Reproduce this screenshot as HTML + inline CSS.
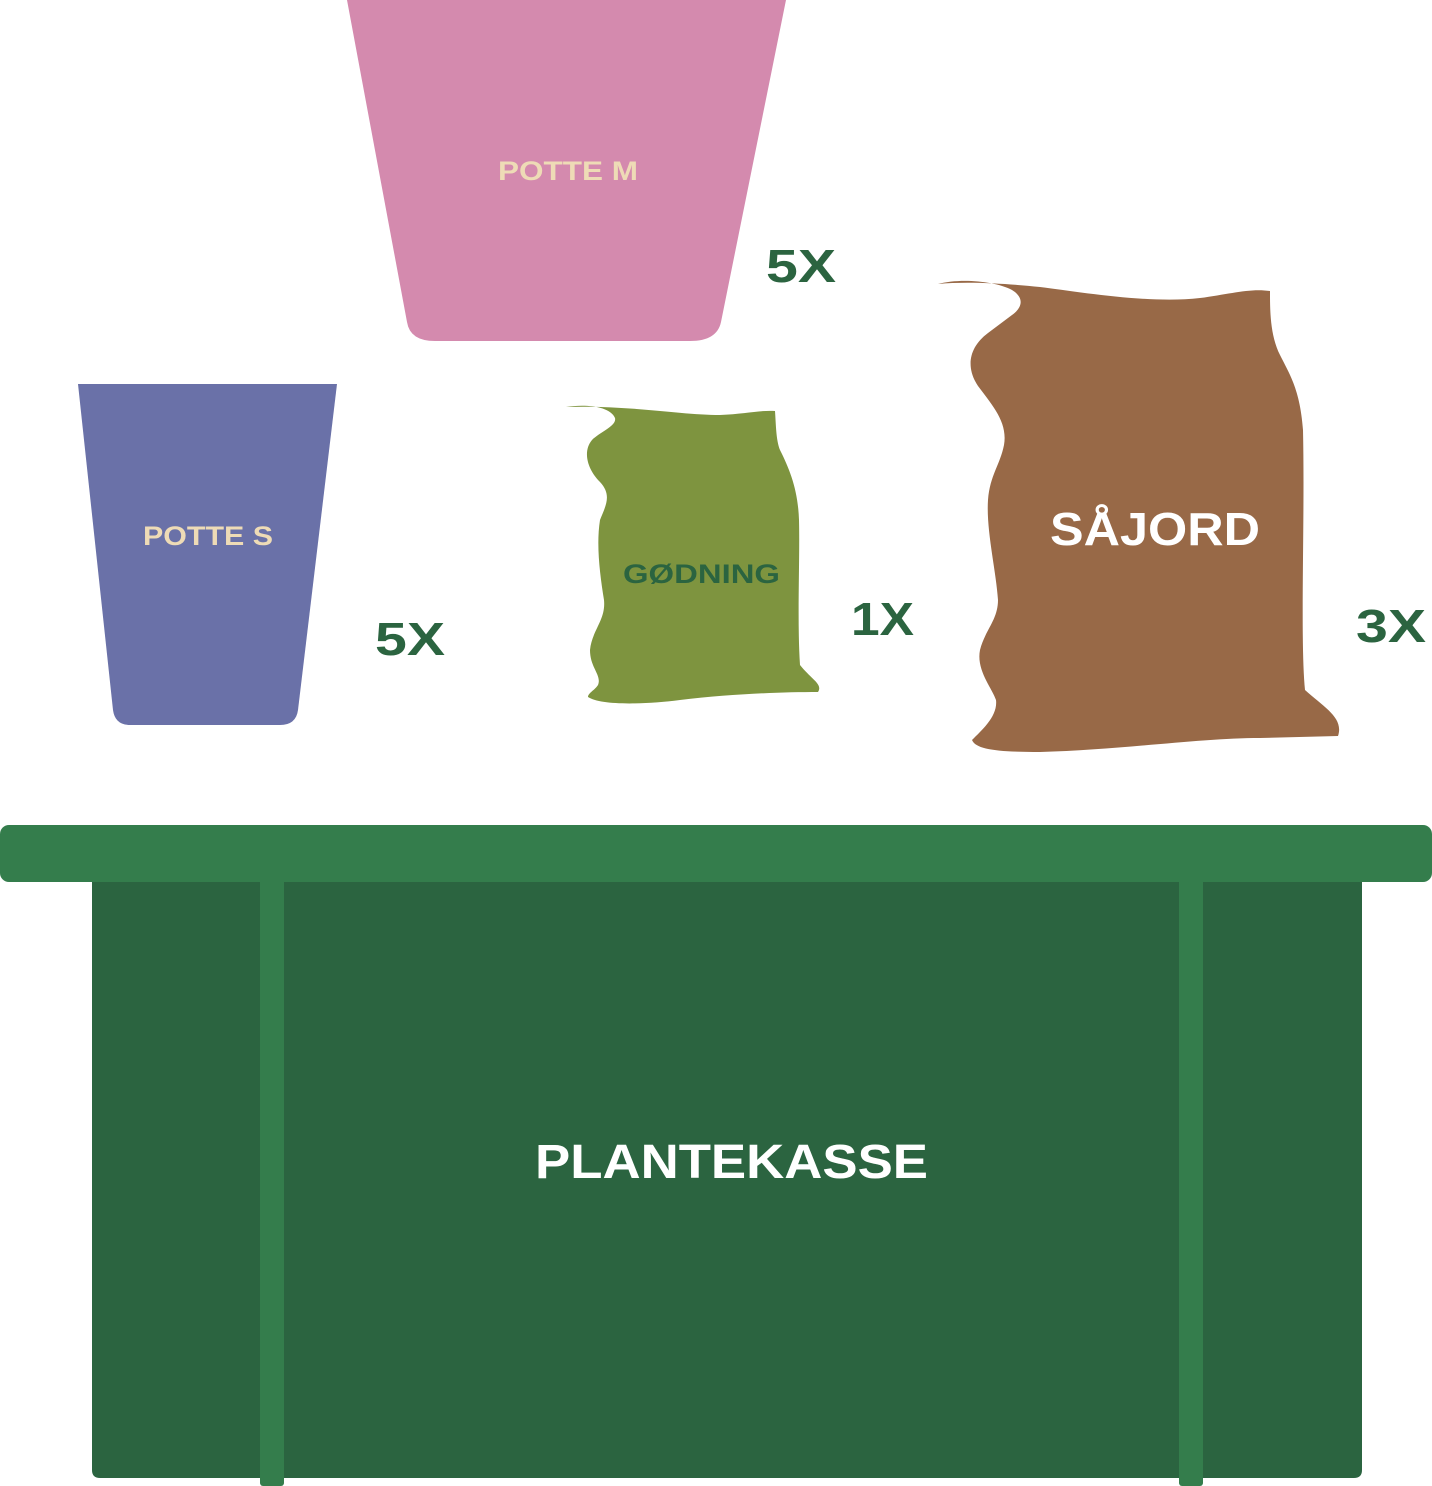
<!DOCTYPE html>
<html><head><meta charset="utf-8"><style>
html,body{margin:0;padding:0;background:#fff;}
svg{display:block;}
text{font-family:"Liberation Sans",sans-serif;font-weight:bold;}
</style></head><body>
<svg width="1432" height="1486" viewBox="0 0 1432 1486" xmlns="http://www.w3.org/2000/svg">
<!-- Potte M -->
<path d="M347,0 L786,0 L721,322 Q717,341 690,341 L435,341 Q410,341 407,322 Z" fill="#d48aae"/>
<text x="498" y="180" font-size="27" fill="#eedbb6" textLength="140" lengthAdjust="spacingAndGlyphs">POTTE M</text>
<text x="766" y="282" font-size="46" fill="#2b6440" textLength="70" lengthAdjust="spacingAndGlyphs">5X</text>
<!-- Potte S -->
<path d="M78,384 L337,384 L298,710 Q296,725 280,725 L130,725 Q115,725 113,710 Z" fill="#6a71a8"/>
<text x="143" y="545" font-size="27" fill="#eedbb6" textLength="130" lengthAdjust="spacingAndGlyphs">POTTE S</text>
<text x="375" y="655" font-size="46" fill="#2b6440" textLength="70" lengthAdjust="spacingAndGlyphs">5X</text>
<!-- Godning bag -->
<path d="M566,407 C585,404 610,406 615,418 C617,426 600,432 592,440 C582,452 588,470 600,482 C612,495 606,505 600,520 C596,545 600,575 604,600 C606,620 592,630 590,650 C590,668 602,675 598,685 C595,690 588,693 588,697 C600,705 640,705 680,700 C730,694 780,692 818,692 C823,684 812,680 800,665 C797,620 800,560 799,520 C798,490 790,470 780,450 C776,440 776,425 775,411 C760,410 745,414 720,415 C680,415 630,405 566,407 Z" fill="#7e943f"/>
<text x="623" y="583" font-size="27" fill="#2b6440" textLength="157" lengthAdjust="spacingAndGlyphs">GØDNING</text>
<text x="851" y="635" font-size="46" fill="#2b6440" textLength="63" lengthAdjust="spacingAndGlyphs">1X</text>
<!-- Sajord bag -->
<path d="M938,284 C960,278 995,281 1012,290 C1025,298 1022,308 1012,315 L988,333 C968,348 966,368 978,386 C992,405 1008,422 1004,445 C1000,465 990,475 988,500 C986,530 996,570 998,600 C998,620 985,630 980,650 C976,670 992,688 996,700 C998,716 982,730 972,740 C976,750 1000,752 1040,752 C1120,750 1200,738 1260,738 L1338,736 C1344,718 1325,708 1305,690 C1300,640 1305,520 1303,430 C1300,390 1290,375 1280,355 C1270,335 1270,310 1270,291 C1250,288 1230,294 1200,298 C1150,304 1080,292 1040,287 C1010,284 970,281 938,284 Z" fill="#986947"/>
<text x="1050" y="545" font-size="46" fill="#ffffff" textLength="210" lengthAdjust="spacingAndGlyphs">SÅJORD</text>
<text x="1356" y="642" font-size="46" fill="#2b6440" textLength="70" lengthAdjust="spacingAndGlyphs">3X</text>
<!-- Plantekasse -->
<path d="M92,878 L1362,878 L1362,1470 Q1362,1478 1354,1478 L100,1478 Q92,1478 92,1470 Z" fill="#2b6440"/>
<rect x="260" y="878" width="24" height="608" rx="3" fill="#347d4c"/>
<rect x="1179" y="878" width="24" height="608" rx="3" fill="#347d4c"/>
<rect x="0" y="825" width="1432" height="57" rx="9" fill="#347d4c"/>
<text x="535" y="1178" font-size="48" fill="#ffffff" textLength="393" lengthAdjust="spacingAndGlyphs">PLANTEKASSE</text>
</svg>
</body></html>
